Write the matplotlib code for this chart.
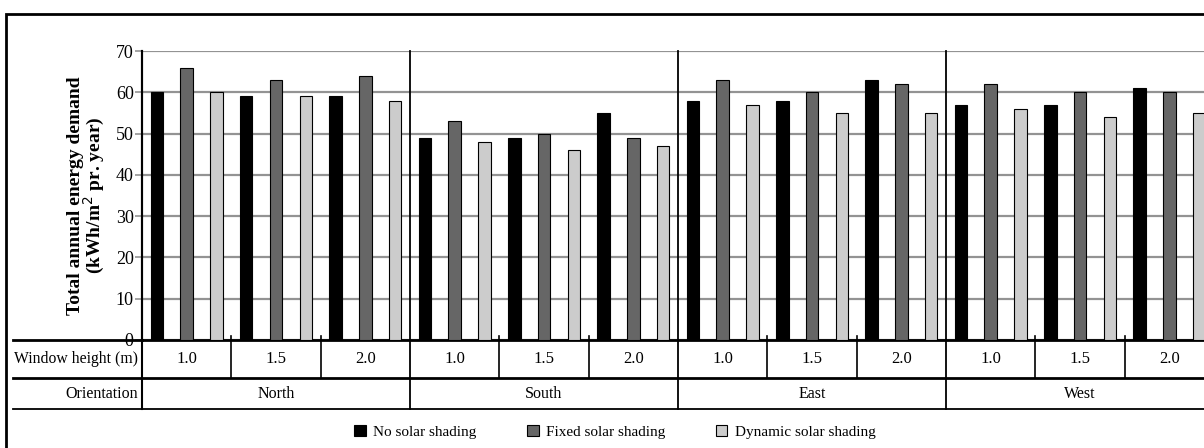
import numpy as np
import matplotlib.pyplot as plt
import matplotlib.transforms as mtransforms
from matplotlib.patches import Patch, Rectangle
from matplotlib.lines import Line2D

plt.rcParams['font.family'] = ['Liberation Serif', 'DejaVu Serif']

# Data
orientations = ['North', 'South', 'East', 'West']
window_heights = ['1.0', '1.5', '2.0']
series_names = ['No solar shading', 'Fixed solar shading', 'Dynamic solar shading']
no_shading = [60, 59, 59, 49, 49, 55, 58, 58, 63, 57, 57, 61]
fixed_shading = [66, 63, 64, 53, 50, 49, 63, 60, 62, 62, 60, 60]
dynamic_shading = [60, 59, 58, 48, 46, 47, 57, 55, 55, 56, 54, 55]
series = [no_shading, fixed_shading, dynamic_shading]
colors = ['#000000', '#666666', '#cccccc']

W, H = 1204, 448
fig = plt.figure(figsize=(W / 100, H / 100), dpi=100)


def fx(px):
    return px / W


def fy(py):
    return 1 - py / H


# plot area (right side runs off the picture like in the original)
left_px, top_px, zero_px = 142, 51, 340
slot_px = 29.78
n_slots = len(orientations) * len(window_heights) * 3
ax = fig.add_axes([fx(left_px), fy(zero_px), fx(n_slots * slot_px), (zero_px - top_px) / H])

for k, (vals, c) in enumerate(zip(series, colors)):
    x = np.arange(len(vals)) * 3 + k + 0.5
    ax.bar(x, vals, width=0.42, color=c, edgecolor='black', linewidth=0.8, zorder=3)

ax.set_xlim(0, n_slots)
ax.set_ylim(0, 70)
ax.set_yticks(range(0, 71, 10))
ax.set_xticks([])
ax.yaxis.grid(True, color='#939393', linewidth=1.6, zorder=0)
ax.tick_params(axis='y', length=5, width=1.2, color='#939393', labelsize=13, pad=1)
for s in ['top', 'right']:
    ax.spines[s].set_visible(False)
ax.spines['left'].set_linewidth(1.5)
ax.spines['bottom'].set_linewidth(2)
ax.set_ylabel('Total annual energy demand\n(kWh/m$^2$ pr. year)', fontsize=14,
              fontweight='bold', linespacing=0.92, labelpad=6)

# table below the axis: x in data units, y in figure fraction
tr = mtransforms.blended_transform_factory(ax.transData, fig.transFigure)
x_left = (13 - left_px) / slot_px


def hline(py, lw, x0=x_left):
    fig.add_artist(Line2D([x0, n_slots + 2], [fy(py), fy(py)], transform=tr,
                          color='black', linewidth=lw, clip_on=False))


def vline(xd, py0, py1, lw):
    fig.add_artist(Line2D([xd, xd], [fy(py0), fy(py1)], transform=tr,
                          color='black', linewidth=lw, clip_on=False))


fig.add_artist(Line2D([x_left, 0], [fy(zero_px), fy(zero_px)], transform=tr,
                      color='black', linewidth=2, clip_on=False))
hline(378, 2)
hline(409, 1.3)
vline(0, top_px, 409, 1.5)

for g, name in enumerate(orientations):
    gx = g * 9
    if g > 0:
        vline(gx, top_px, 409, 1.3)
    for s, wh in enumerate(window_heights):
        sx = gx + s * 3
        if s > 0:
            vline(sx, 336, 378, 1.2)
        fig.text(sx + 1.5, fy(359), wh, transform=tr, ha='center', va='center', fontsize=12)
    fig.text(gx + 4.5, fy(394), name, transform=tr, ha='center', va='center', fontsize=11.5)

fig.text(fx(138), fy(359), 'Window height (m)', ha='right', va='center', fontsize=11.3)
fig.text(fx(138), fy(394), 'Orientation', ha='right', va='center', fontsize=11.5)

# outer frame
fig.add_artist(Rectangle((fx(6), -0.1), 1.2, fy(14) + 0.1, transform=fig.transFigure,
                         fill=False, edgecolor='black', linewidth=2, clip_on=False))

handles = [Patch(facecolor=c, edgecolor='black', linewidth=0.8) for c in colors]
fig.legend(handles, series_names, loc='center', bbox_to_anchor=(fx(615), fy(432)),
           ncol=3, frameon=False, fontsize=11, handlelength=0.75, handleheight=0.75,
           handletextpad=0.5, columnspacing=3.3)

fig.savefig('out.png', dpi=100, facecolor='white')
